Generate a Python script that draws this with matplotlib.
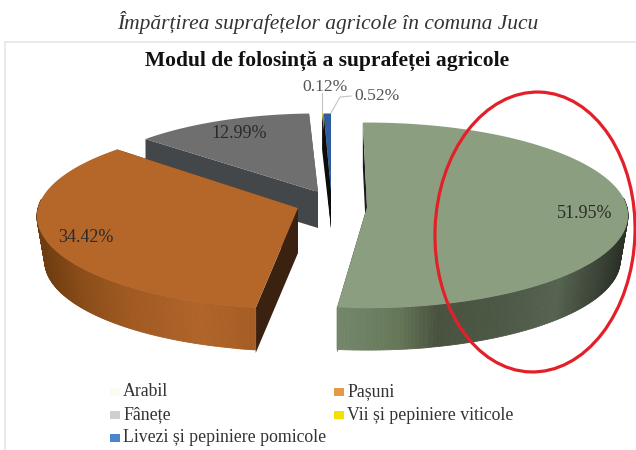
import numpy as np
import matplotlib
matplotlib.use("Agg")
import matplotlib.pyplot as plt
from matplotlib.colors import to_rgb
from matplotlib.patches import Polygon, Ellipse, Rectangle

categories = ["Arabil", "Pașuni", "Fânețe", "Vii și pepiniere viticole", "Livezi și pepiniere pomicole"]
values = [51.95, 34.42, 12.99, 0.12, 0.52]
labels = ["51.95%", "34.42%", "12.99%", "0.12%", "0.52%"]
top_cols = ["#8b9f80", "#b5672a", "#6f6f6f", "#c9b400", "#2f5d9f"]
wall_cols = ["#1d1d1d", "#3a2110", "#44474a", "#0c0c0c", "#0c0c0c"]
legend_cols = ["#fbfbf2", "#e39a45", "#cfcfcf", "#f5e000", "#4a86d0"]
centers = [(367, 207), (298, 208), (318, 192), (331, 192), (331, 192)]
scales = [1.0, 1.0, 0.93, 0.93, 0.93]
depths = [45, 45, 36, 36, 36]
turns = [-1.0, 1.5, 0.0, 0.0, 0.0]

W, H = 636, 450
R, TILT, P, BASE = 260, 0.354, 0.09, 0.97
SERIF = "Liberation Serif"

green_rim = ([338, 400, 440, 500, 560, 600, 626],
             ["#76886c", "#667759", "#48523f", "#4c5845", "#566350", "#3a4336", "#2a3026"])
orange_rim = ([38, 80, 130, 200, 262],
              ["#6e3c10", "#8a4c18", "#a15a20", "#b0642a", "#a45c22"])
rim_shades = {0: green_rim, 1: orange_rim}

fig = plt.figure(figsize=(W / 100, H / 100), dpi=100)
ax = fig.add_axes([0, 0, 1, 1])
ax.set_xlim(0, W)
ax.set_ylim(H, 0)
ax.axis("off")


def proj(theta, c, k=1.0):
    y = np.cos(theta)
    s = 1 / (1 + P * y)
    return c[0] + s * k * R * np.sin(theta), c[1] - s * k * R * TILT * y


ax.add_patch(Rectangle((5, 42), 640, 410, fc="white", ec="#e6e6e6", lw=1.2))

start = 0.0
spans = []
for v, turn in zip(values, turns):
    a = 2 * np.pi * v / sum(values)
    spans.append((start + np.radians(turn), start + a + np.radians(turn)))
    start += a

for i in [2, 3, 4, 1, 0]:
    a0, a1 = spans[i]
    c, k, d = centers[i], scales[i], depths[i]
    t = np.linspace(a0, a1, 240)
    x, y = proj(t, c, k)
    for ang in (a0, a1):
        ex, ey = proj(ang, c, k)
        ax.add_patch(Polygon([c, (ex, ey), (ex, ey + d), (c[0], c[1] + d)], fc=wall_cols[i], ec="none"))
    if i in rim_shades:
        vis = np.where(np.cos(t) < 0.1)[0]
        bx, by = proj(t, (c[0], c[1] + d), k * BASE)
        bx = np.where(np.abs(x - c[0]) < 60, x, bx)
        xs, cs = rim_shades[i]
        rgb = np.array([to_rgb(q) for q in cs])
        for a, b in zip(vis[:-1], vis[1:]):
            col = [np.interp(x[a], xs, rgb[:, n]) for n in range(3)]
            ax.add_patch(Polygon([(x[a], y[a]), (x[b], y[b]), (bx[b], by[b]), (bx[a], by[a])],
                                 fc=col, ec=col, lw=0.6))
    if i == 0:
        ax.add_patch(Polygon([(c[0] - 2, c[1] - 60), (c[0] + 2, c[1] - 5), (c[0], c[1])], fc="#1d1d1d", ec="none"))
    ax.add_patch(Polygon(np.r_[[c], np.c_[x, y]], fc=top_cols[i], ec="none"))

inner = dict(family=SERIF, color="#2a2a2a", ha="center", va="center", fontsize=13)
outer = dict(family=SERIF, color="#555555", ha="center", va="center", fontsize=12.6)
ax.text(585, 213, labels[0], **inner)
ax.text(86, 238, labels[1], **inner)
ax.text(239, 133, labels[2], **inner)
ax.text(325, 87, labels[3], **outer)
ax.text(377, 96, labels[4], **outer)
ax.plot([322, 322], [93, 113], color="#c4c4c4", lw=0.8)
ax.plot([351, 340, 331], [96, 97, 113], color="#c4c4c4", lw=0.8)

ax.add_patch(Ellipse((535, 232), 200, 280, angle=2, fc="none", ec="#e3202a", lw=2.3))

ax.text(328, 22, "Împărțirea suprafețelor agricole în comuna Jucu", family=SERIF, style="italic",
        ha="center", va="center", fontsize=15.5, color="#333333")
ax.text(327, 61, "Modul de folosință a suprafeței agricole", family=SERIF, weight="bold",
        ha="center", va="center", fontsize=15.5, color="#111111")

leg_pos = [(123, 392), (347, 392), (123, 415), (347, 415), (123, 438)]
for name, col, (lx, ly) in zip(categories, legend_cols, leg_pos):
    ax.add_patch(Rectangle((lx - 13, ly - 4), 10, 8, fc=col, ec="none"))
    ax.text(lx, ly, name, family=SERIF, fontsize=12.8, color="#333333", ha="left", va="center")

fig.savefig("out.png", dpi=100)
